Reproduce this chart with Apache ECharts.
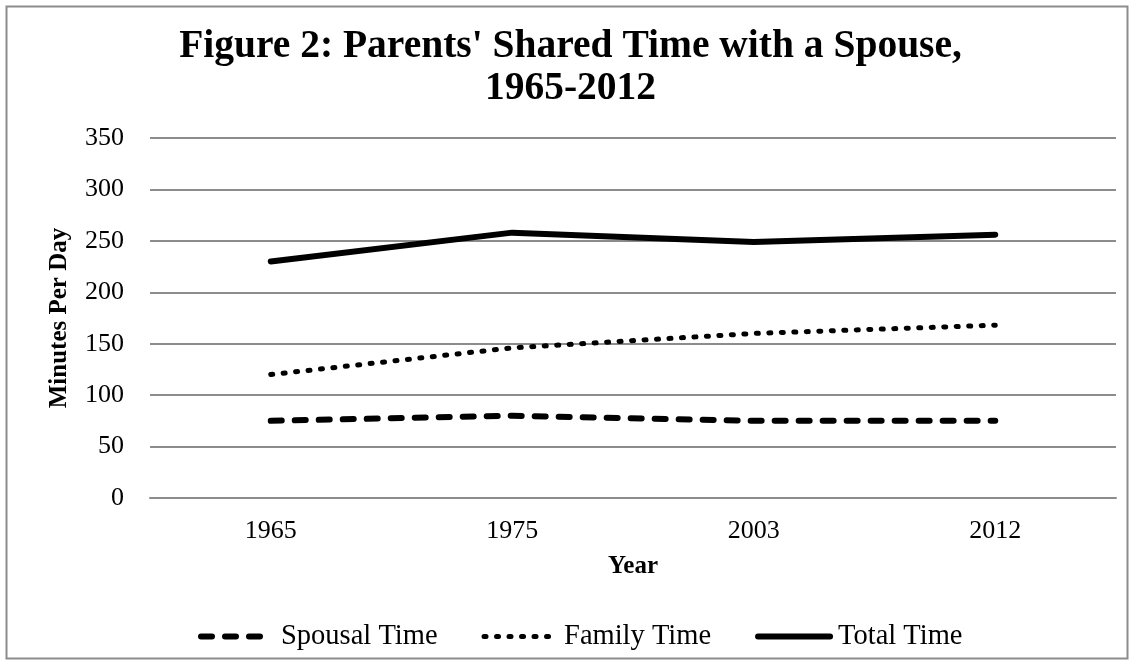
<!DOCTYPE html>
<html><head><meta charset="utf-8">
<script src="https://cdn.jsdelivr.net/npm/echarts@6/dist/echarts.min.js"></script>
<style>html,body{margin:0;padding:0;background:#fff}#c{width:1141px;height:665px}</style>
</head><body><div id="c"></div>
<script>
const categories = ['1965', '1975', '2003', '2012'];
const spousalTime = [75, 80, 75, 75];
const familyTime = [120, 146, 160, 168];
const totalTime = [230, 258, 249, 256];
const yTicks = [0, 50, 100, 150, 200, 250, 300, 350];

const F = '"Liberation Serif", "Times New Roman", serif';
const chart = echarts.init(document.getElementById('c'));
chart.setOption({
  backgroundColor: '#fff',
  animation: false,
  textStyle: { fontFamily: F },
  title: {
    text: "Figure 2: Parents' Shared Time with a Spouse,\n1965-2012",
    left: 'center', top: 21,
    textStyle: { fontFamily: F, fontSize: 39.5, fontWeight: 'bold', color: '#000', lineHeight: 42 }
  },
  graphic: [{
    type: 'rect', shape: { x: 6.5, y: 6.5, width: 1121, height: 652 },
    style: { fill: null, stroke: '#8c8c8c', lineWidth: 2 }, silent: true, z: -1
  }],
  grid: { left: 150, right: 25, top: 138, bottom: 167 },
  legend: {
    top: 617, left: 193, itemWidth: 72, itemHeight: 18, itemGap: 44,
    itemStyle: { opacity: 0 },
    textStyle: { fontFamily: F, fontSize: 28.5, color: '#000', padding: [0, 0, 0, 3] },
    data: [
      { name: 'Spousal Time', lineStyle: { width: 6, type: [11, 13], cap: 'round', color: '#000' } },
      { name: 'Family Time', lineStyle: { width: 5, type: [2, 10.5], cap: 'round', color: '#000' } },
      { name: 'Total Time', lineStyle: { width: 6, type: 'solid', cap: 'round', color: '#000' } }
    ]
  },
  xAxis: {
    type: 'category', data: categories, boundaryGap: true,
    name: 'Year', nameLocation: 'middle', nameGap: 56,
    nameTextStyle: { fontFamily: F, fontSize: 25, fontWeight: 'bold', color: '#000' },
    axisLine: { show: true, lineStyle: { color: '#8c8c8c', width: 2 } },
    axisTick: { show: false },
    axisLabel: { fontFamily: F, fontSize: 26, color: '#000', margin: 20 }
  },
  yAxis: {
    type: 'value', min: 0, max: 350, interval: 50,
    name: 'Minutes Per Day', nameLocation: 'middle', nameGap: 78,
    nameTextStyle: { fontFamily: F, fontSize: 25, fontWeight: 'bold', color: '#000' },
    axisLine: { show: false }, axisTick: { show: false },
    axisLabel: { fontFamily: F, fontSize: 26, color: '#000', margin: 26,
      formatter: v => yTicks.includes(v) ? String(v) : '' },
    splitLine: { lineStyle: { color: '#8c8c8c', width: 2 } }
  },
  series: [
    { name: 'Spousal Time', type: 'line', data: spousalTime, symbol: 'none',
      lineStyle: { color: '#000', width: 6, type: [11, 13], cap: 'round' }, itemStyle: { color: '#000' } },
    { name: 'Family Time', type: 'line', data: familyTime, symbol: 'none',
      lineStyle: { color: '#000', width: 5, type: [2, 10.5], cap: 'round' }, itemStyle: { color: '#000' } },
    { name: 'Total Time', type: 'line', data: totalTime, symbol: 'none',
      lineStyle: { color: '#000', width: 6, type: 'solid', cap: 'round' }, itemStyle: { color: '#000' } }
  ]
});
</script></body></html>
